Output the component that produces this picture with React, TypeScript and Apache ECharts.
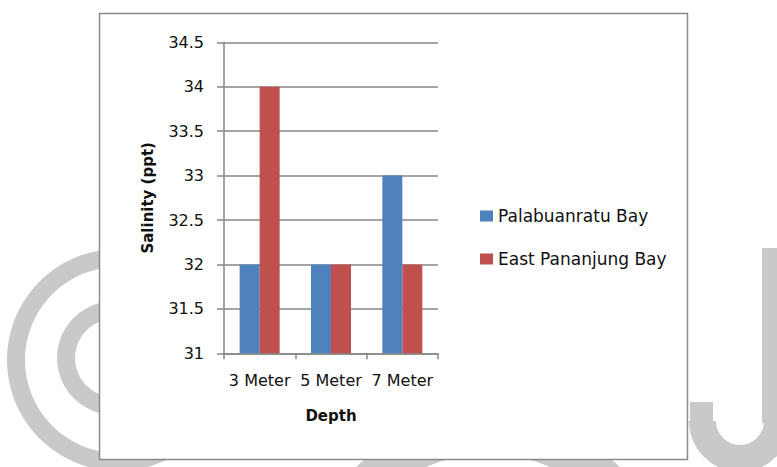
import React, { useEffect, useRef } from "react";
import * as echarts from "echarts";

const depths = ["3 Meter", "5 Meter", "7 Meter"];
const palabuanratu = [32, 32, 33];
const eastPananjung = [34, 32, 32];
const seriesNames = ["Palabuanratu Bay", "East Pananjung Bay"];
const seriesColors = ["#4F81BD", "#C0504D"];

const FONT = "DejaVu Sans";
const GRID_GRAY = "#878787";
const MARK_GRAY = "#c9c9c9";

export default function App() {
  const ref = useRef<HTMLDivElement>(null);

  useEffect(() => {
    if (!ref.current) return;
    const chart = echarts.init(ref.current, null, { renderer: "svg" });

    chart.setOption({
      animation: false,
      backgroundColor: "#ffffff",
      textStyle: { fontFamily: FONT },
      graphic: [
        // background emblem, mostly covered by the white chart frame
        { type: "ring", z: -1, shape: { cx: 118, cy: 360, r: 111, r0: 93 }, style: { fill: MARK_GRAY } },
        { type: "ring", z: -1, shape: { cx: 114, cy: 358, r: 57, r0: 39 }, style: { fill: MARK_GRAY } },
        { type: "ring", z: -1, shape: { cx: 488, cy: 608, r: 193, r0: 154 }, style: { fill: MARK_GRAY } },
        { type: "rect", z: -1, shape: { x: 762, y: 248, width: 30, height: 175 }, style: { fill: MARK_GRAY } },
        { type: "rect", z: -1, shape: { x: 690, y: 402, width: 23, height: 21 }, style: { fill: MARK_GRAY } },
        {
          type: "sector",
          z: -1,
          shape: { cx: 740, cy: 421, r: 51, r0: 24, startAngle: 0, endAngle: Math.PI, clockwise: true },
          style: { fill: MARK_GRAY },
        },
        // chart frame
        {
          type: "rect",
          z: -1,
          shape: { x: 99.5, y: 13.5, width: 588, height: 446 },
          style: { fill: "#ffffff", stroke: "#8a8a8a", lineWidth: 1.5 },
        },
      ],
      legend: {
        orient: "vertical",
        left: 480,
        top: 206,
        padding: 0,
        itemWidth: 13,
        itemHeight: 11,
        itemGap: 23,
        icon: "rect",
        data: seriesNames,
        textStyle: { fontFamily: FONT, fontSize: 17, color: "#111", lineHeight: 20 },
      },
      grid: { left: 224, top: 42.3, right: 339, bottom: 113.7 },
      xAxis: {
        type: "category",
        data: depths,
        name: "Depth",
        nameLocation: "middle",
        nameGap: 55,
        nameTextStyle: { fontFamily: FONT, fontSize: 15, fontWeight: "bold", color: "#111" },
        axisLine: { lineStyle: { color: GRID_GRAY, width: 1.5 } },
        axisTick: { show: true, length: 6, lineStyle: { color: GRID_GRAY, width: 1.5 } },
        axisLabel: { fontFamily: FONT, fontSize: 16, color: "#111", margin: 19, interval: 0 },
      },
      yAxis: {
        type: "value",
        min: 31,
        max: 34.5,
        interval: 0.5,
        name: "Salinity (ppt)",
        nameLocation: "middle",
        nameGap: 69,
        nameTextStyle: { fontFamily: FONT, fontSize: 15, fontWeight: "bold", color: "#111" },
        axisLine: { show: true, lineStyle: { color: GRID_GRAY, width: 1.5 } },
        axisTick: { show: true, length: 7, lineStyle: { color: GRID_GRAY, width: 1.5 } },
        splitLine: { show: true, lineStyle: { color: GRID_GRAY, width: 1.5 } },
        axisLabel: { fontFamily: FONT, fontSize: 16, color: "#111", margin: 20 },
      },
      series: [
        {
          name: seriesNames[0],
          type: "bar",
          data: palabuanratu,
          barWidth: 20,
          barGap: "0%",
          itemStyle: { color: seriesColors[0] },
        },
        {
          name: seriesNames[1],
          type: "bar",
          data: eastPananjung,
          barWidth: 20,
          barGap: "0%",
          itemStyle: { color: seriesColors[1] },
        },
      ],
    });

    return () => chart.dispose();
  }, []);

  return (
    <div
      ref={ref}
      style={{ position: "fixed", left: 0, top: 0, width: 777, height: 467 }}
    />
  );
}
